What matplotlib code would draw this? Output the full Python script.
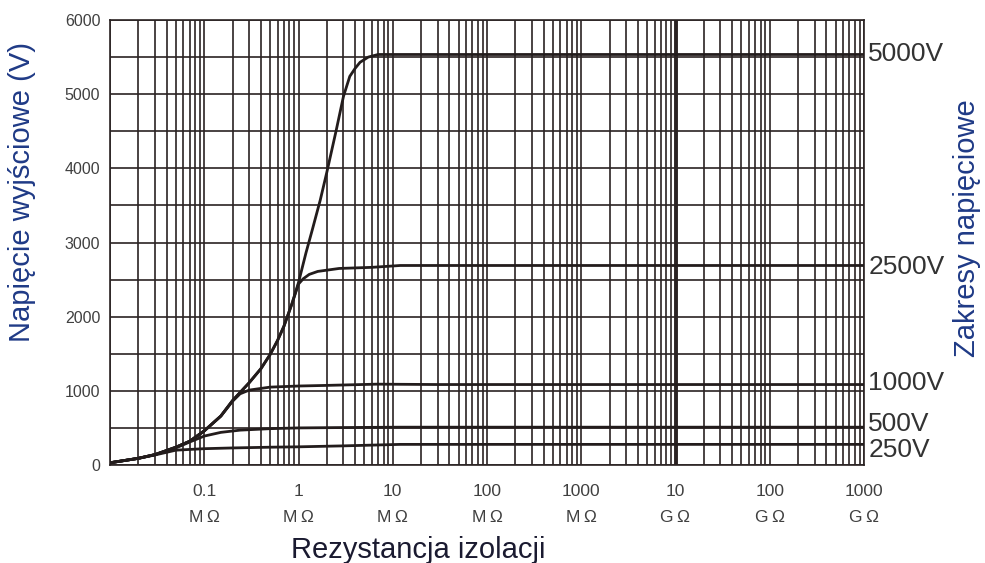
import matplotlib
matplotlib.use("Agg")
import matplotlib.pyplot as plt
from matplotlib.ticker import LogLocator, NullFormatter, MultipleLocator

plt.rcParams['font.family'] = ['Liberation Sans', 'DejaVu Sans']

# ---- data (resistance in MOhm, output voltage in V) ----
R5000 = [0.01, 0.02, 0.03, 0.05, 0.07, 0.1, 0.15, 0.2, 0.3, 0.4, 0.5, 0.6, 0.7, 0.85, 1.0, 1.2, 1.4, 1.7, 2.0, 2.5, 3.0, 3.5, 4.0, 4.5, 5.5, 7, 10, 1e6]
V5000 = [30, 90, 140, 240, 320, 460, 660, 870, 1110, 1300, 1490, 1680, 1870, 2170, 2460, 2860, 3170, 3570, 3950, 4500, 4970, 5240, 5350, 5430, 5500, 5535, 5535, 5535]

R2500 = [0.01, 0.02, 0.03, 0.05, 0.07, 0.1, 0.15, 0.2, 0.3, 0.4, 0.5, 0.6, 0.7, 0.85, 1.0, 1.12, 1.3, 1.6, 2.7, 6, 12, 1e6]
V2500 = [30, 90, 140, 240, 320, 460, 660, 870, 1110, 1300, 1490, 1680, 1870, 2170, 2440, 2510, 2570, 2610, 2650, 2665, 2690, 2690]

R1000 = [0.01, 0.02, 0.03, 0.05, 0.07, 0.1, 0.15, 0.2, 0.24, 0.3, 0.5, 1.0, 1.8, 6.8, 30, 1e6]
V1000 = [30, 90, 140, 240, 320, 460, 660, 860, 960, 1010, 1050, 1065, 1072, 1090, 1085, 1085]

R500 = [0.01, 0.02, 0.03, 0.05, 0.07, 0.1, 0.15, 0.24, 0.5, 1.0, 3, 12, 1e6]
V500 = [30, 90, 140, 230, 310, 390, 440, 470, 490, 500, 505, 510, 510]

R250 = [0.01, 0.02, 0.03, 0.05, 0.1, 0.2, 0.5, 1.0, 3, 12, 1e6]
V250 = [30, 90, 135, 200, 220, 230, 240, 245, 258, 278, 278]

series = [("5000V", R5000, V5000), ("2500V", R2500, V2500), ("1000V", R1000, V1000),
          ("500V", R500, V500), ("250V", R250, V250)]

x_ticks = [0.01, 0.1, 1, 10, 100, 1000, 1e4, 1e5, 1e6]
x_labels = ["", "0.1\nM\u2009Ω", "1\nM\u2009Ω", "10\nM\u2009Ω", "100\nM\u2009Ω", "1000\nM\u2009Ω",
            "10\nG\u2009Ω", "100\nG\u2009Ω", "1000\nG\u2009Ω"]
y_ticks = [0, 1000, 2000, 3000, 4000, 5000, 6000]

# label vertical nudges (points) to avoid overlap
label_nudge = {"5000V": 0, "2500V": -1, "1000V": 1, "500V": 2, "250V": -4}

grid_c = '#2b2323'
fig = plt.figure(figsize=(9.85, 5.63), dpi=100)
ax = fig.add_axes([110/985, 1-465/563, (864-110)/985, (465-20)/563])

ax.set_xscale('log')
ax.set_xlim(0.01, 1e6)
ax.set_ylim(0, 6000)

ax.set_xticks(x_ticks)
ax.set_xticklabels(x_labels, fontsize=12.5, color='#404040', linespacing=1.85)
ax.xaxis.set_minor_locator(LogLocator(base=10, subs=[2, 3, 4, 5, 6, 7, 8, 9], numticks=20))
ax.xaxis.set_minor_formatter(NullFormatter())
ax.set_yticks(y_ticks)
ax.set_yticklabels([str(v) for v in y_ticks], fontsize=11.5, color='#404040')
ax.yaxis.set_minor_locator(MultipleLocator(500))

ax.tick_params(which='both', length=0)
ax.tick_params(axis='x', pad=14)
ax.tick_params(axis='y', pad=7)

ax.grid(True, which='both', color=grid_c, linewidth=1.2)
ax.set_axisbelow(True)
for s in ax.spines.values():
    s.set_color(grid_c)
    s.set_linewidth(1.2)

ax.axvline(1e4, color=grid_c, linewidth=2.8, zorder=1.5)

for name, r, v in series:
    ax.plot(r, v, color='#231c1c', linewidth=2.0, solid_capstyle='round', zorder=3)
    ax.annotate(name, xy=(1, v[-1]), xycoords=('axes fraction', 'data'),
                xytext=(3, label_nudge[name]), textcoords='offset points',
                ha='left', va='center', fontsize=19, color='#333333')

fig.text(22/985, 1-192/563, "Napięcie wyjściowe (V)", rotation=90, ha='center', va='center',
         fontsize=21, color='#1f3a86')
fig.text(967/985, 1-228/563, "Zakresy napięciowe", rotation=90, ha='center', va='center',
         fontsize=21, color='#1f3a86')
fig.text(418/985, 1-550/563, "Rezystancja izolacji", ha='center', va='center',
         fontsize=21, color='#1a1a30')

fig.savefig("out.png", dpi=100)
